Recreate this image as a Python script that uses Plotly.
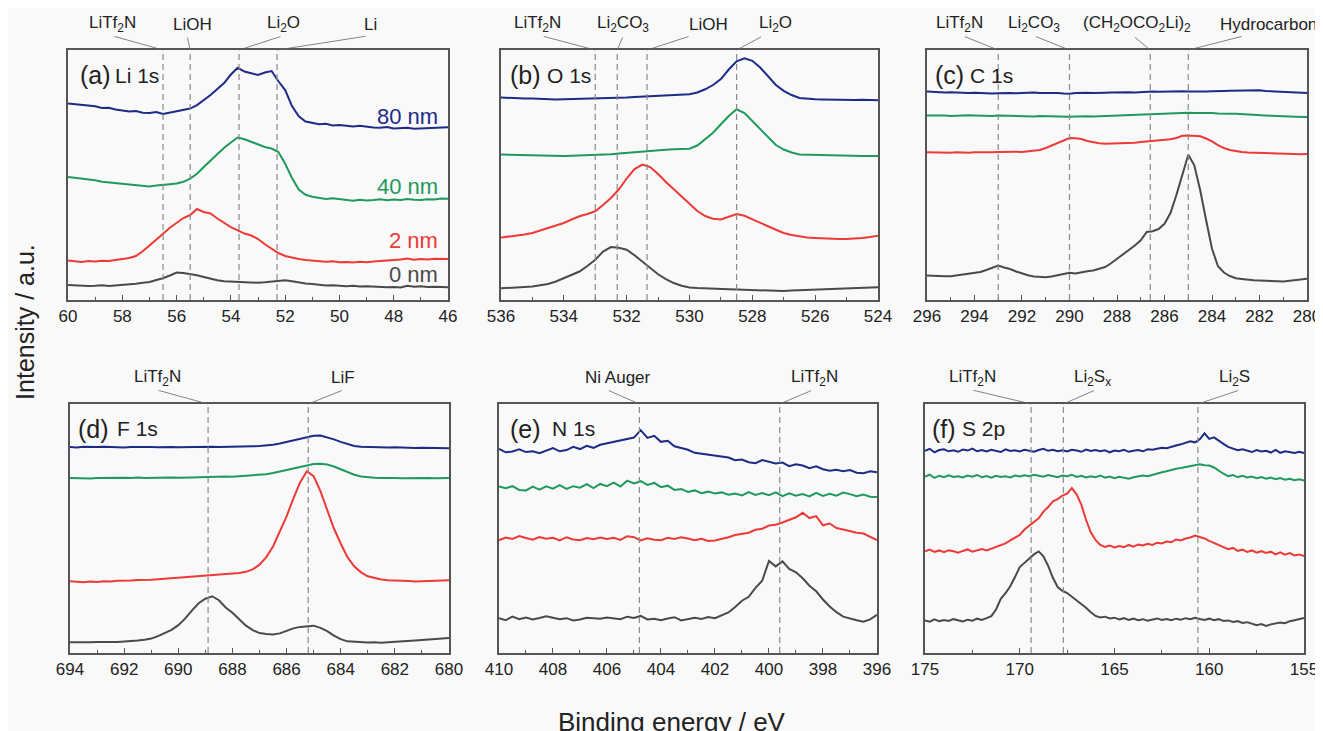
import numpy as np
import plotly.graph_objects as go

# ---- data (intensity in arbitrary units) ----
THICK = ['80 nm', '40 nm', '2 nm', '0 nm']
COLORS = ['#1e2a86', '#1f9a5c', '#ec3a36', '#4a4a4a']

# Li 1s, 60 -> 46 eV, 0.25 eV steps
li1s_ev = np.arange(60, 45.99, -0.25)
li1s_80 = [78.6, 78.4, 78.0, 77.9, 77.5, 76.8, 76.9, 76.2, 75.8, 75.4, 75.6, 74.9,
           74.8, 75.2, 74.4, 75.0, 75.4, 75.9, 76.6, 78.0, 79.9, 82.0, 84.4, 86.8,
           90.2, 92.9, 91.4, 90.8, 90.0, 91.0, 91.6, 87.5, 84.0, 77.6, 73.5, 71.4,
           70.8, 70.3, 70.5, 69.8, 70.0, 69.6, 69.4, 69.7, 69.2, 69.0, 68.9, 69.2,
           68.6, 68.7, 68.9, 68.5, 68.6, 68.8, 68.6, 69.0, 69.1]
li1s_40 = [49.2, 48.9, 48.6, 48.0, 47.9, 47.3, 47.0, 46.8, 46.4, 46.1, 45.8, 45.6,
           45.4, 45.8, 45.9, 46.3, 46.6, 47.3, 48.6, 50.5, 53.2, 55.9, 58.4, 60.9,
           63.0, 65.0, 64.3, 63.3, 62.0, 61.2, 60.6, 59.2, 54.5, 48.8, 44.2, 42.1,
           41.3, 40.9, 40.4, 40.7, 40.3, 40.0, 39.7, 40.1, 39.8, 40.0, 40.3, 39.9,
           40.2, 40.0, 40.4, 40.1, 40.0, 40.3, 40.2, 40.6, 40.5]
li1s_2 = [15.8, 15.6, 15.2, 15.6, 15.4, 15.7, 15.6, 16.0, 16.3, 16.8, 17.6, 19.5,
          21.8, 24.0, 26.5, 28.9, 31.0, 32.8, 34.0, 36.4, 35.2, 34.6, 32.6, 30.8,
          29.2, 27.9, 26.6, 25.8, 24.4, 22.3, 20.6, 18.8, 17.6, 16.9, 16.4, 16.0,
          15.8, 15.5, 15.3, 15.5, 15.1, 15.2, 15.0, 15.3, 15.1, 15.4, 15.6, 15.5,
          15.8, 16.2, 16.6, 16.1, 16.4, 16.2, 16.5, 16.3, 16.4]
li1s_0 = [6.0, 5.8, 5.9, 5.6, 5.7, 5.9, 5.6, 5.8, 5.9, 6.1, 6.5, 6.9,
          7.2, 8.0, 8.7, 9.8, 11.0, 10.8, 10.5, 9.9, 9.2, 8.4, 7.9, 7.5,
          7.4, 7.0, 7.2, 6.8, 6.9, 7.1, 7.4, 7.8, 7.9, 7.5, 7.0, 6.6,
          6.4, 6.1, 5.8, 5.9, 5.7, 5.5, 5.7, 5.4, 5.5, 5.3, 5.4, 5.1,
          5.2, 5.0, 5.7, 5.3, 5.5, 5.2, 5.3, 5.1, 5.1]

# O 1s, 536 -> 524 eV
o1s_ev = np.arange(536, 523.99, -0.25)
o1s_80 = [81.0, 80.8, 80.9, 80.6, 80.6, 80.4, 80.5, 80.2, 80.3, 80.4, 80.2, 80.3,
          80.4, 80.5, 80.6, 80.9, 81.0, 81.2, 81.4, 81.5, 81.7, 81.8, 82.0, 82.2,
          82.3, 83.0, 84.3, 86.0, 88.4, 92.2, 95.5, 96.7, 95.7, 93.0, 89.5, 86.0,
          83.7, 82.0, 80.8, 80.4, 80.3, 80.2, 80.1, 80.2, 80.1, 80.0, 80.1, 79.9,
          79.9]
o1s_40 = [58.2, 58.1, 58.0, 57.9, 57.8, 57.7, 57.6, 57.7, 57.6, 57.7, 57.8, 57.7,
          57.8, 58.0, 58.3, 58.6, 58.9, 59.2, 59.5, 59.8, 60.0, 60.1, 60.3, 60.4,
          60.5, 61.8, 64.2, 66.9, 70.3, 73.6, 76.3, 74.8, 71.6, 68.3, 64.9, 62.0,
          60.2, 59.0, 58.2, 58.1, 58.0, 57.8, 57.7, 57.6, 57.6, 57.5, 57.6, 57.6,
          57.6]
o1s_2 = [25.0, 25.3, 25.7, 26.2, 26.8, 27.8, 28.8, 29.8, 30.8, 32.2, 33.5, 34.4,
         35.5, 38.0, 40.8, 44.2, 48.6, 52.4, 54.2, 53.2, 50.4, 47.2, 44.2, 41.2,
         38.2, 35.6, 33.6, 32.5, 32.2, 33.3, 34.4, 33.7, 32.2, 30.8, 29.5, 28.1,
         26.8, 26.0, 25.4, 25.0, 24.8, 24.6, 24.5, 24.4, 24.4, 24.5, 24.8, 25.2,
         25.7]
o1s_0 = [4.7, 4.8, 5.0, 5.2, 5.4, 5.8, 6.4, 7.4, 8.7, 10.0, 11.4, 13.6,
         16.1, 19.4, 21.2, 20.9, 20.1, 17.9, 15.4, 12.9, 10.3, 8.4, 6.8, 5.7,
         5.0, 4.8, 4.6, 4.5, 4.4, 4.3, 4.2, 4.1, 4.0, 3.9, 3.8, 3.7,
         3.6, 3.8, 3.9, 4.0, 4.0, 4.1, 4.2, 4.3, 4.4, 4.6, 4.8, 4.9,
         5.1]

# C 1s, 296 -> 280 eV
c1s_ev = np.arange(296, 279.99, -0.25)
c1s_80 = [83.4, 83.2, 83.3, 83.0, 83.1, 82.9, 83.0, 82.8, 82.9, 82.7, 82.8, 82.6,
          82.7, 82.9, 82.8, 82.7, 82.9, 82.8, 83.0, 82.8, 82.9, 82.7, 82.8, 82.6,
          82.5, 82.8, 82.7, 82.9, 82.8, 83.0, 82.9, 83.0, 83.1, 83.0, 83.1, 83.0,
          83.2, 83.3, 83.4, 83.3, 83.4, 83.3, 83.4, 83.5, 83.4, 83.3, 83.5, 83.4,
          83.5, 83.4, 83.6, 83.7, 83.8, 83.9, 84.0, 83.8, 83.9, 83.6, 83.5, 83.3,
          83.2, 83.0, 83.1, 82.9, 82.8]
c1s_40 = [73.8, 73.9, 73.7, 73.8, 73.6, 73.8, 73.7, 73.9, 73.8, 73.7, 73.8, 73.6,
          73.8, 73.7, 73.5, 73.6, 73.4, 73.5, 73.4, 73.6, 73.5, 73.3, 73.4, 73.2,
          73.3, 73.4, 73.3, 73.5, 73.4, 73.5, 73.6, 73.5, 73.6, 73.8, 73.9, 74.1,
          74.2, 74.4, 74.5, 74.6, 74.7, 74.8, 74.8, 74.9, 74.9, 74.8, 74.9, 74.7,
          74.8, 74.6, 74.7, 74.5, 74.5, 74.3, 74.2, 74.0, 74.0, 73.8, 73.7, 73.7,
          73.6, 73.4, 73.3, 73.3, 73.2]
c1s_2 = [59.1, 59.0, 59.2, 59.0, 58.9, 59.1, 59.0, 58.9, 59.1, 59.0, 59.2, 59.1,
         59.2, 59.3, 59.1, 59.3, 59.2, 59.4, 59.5, 60.0, 60.8, 61.8, 62.8, 64.0,
         64.8, 64.7, 64.4, 63.6, 63.1, 62.7, 62.5, 62.6, 62.4, 62.6, 62.8, 62.9,
         63.2, 63.4, 63.6, 63.9, 64.2, 64.3, 64.8, 65.7, 65.8, 65.6, 65.5, 64.6,
         63.5, 62.0, 60.8, 60.0, 59.5, 59.2, 59.0, 58.9, 58.8, 58.7, 58.6, 58.5,
         58.5, 58.4, 58.5, 58.3, 58.4]
c1s_0 = [9.8, 9.6, 9.7, 9.5, 9.5, 9.8, 10.1, 10.3, 10.6, 11.2, 12.0, 12.8,
         13.8, 13.0, 12.4, 11.4, 10.6, 9.9, 9.4, 9.2, 9.1, 9.4, 9.8, 10.4,
         10.9, 10.6, 11.2, 11.5, 11.8, 12.4, 13.2, 14.7, 16.5, 18.1, 19.9, 21.8,
         23.9, 27.2, 27.5, 28.4, 30.5, 34.8, 42.0, 50.0, 58.1, 54.0, 44.0, 32.0,
         20.5, 13.5, 11.0, 9.6, 8.7, 8.4, 8.0, 7.9, 7.8, 7.6, 7.4, 7.5,
         7.4, 7.6, 7.9, 8.2, 8.5]

# F 1s, 694 -> 680 eV
f1s_ev = np.arange(694, 679.99, -0.25)
f1s_80 = [82.7, 82.5, 82.8, 82.6, 82.7, 82.8, 82.6, 82.7, 82.5, 82.7, 82.8, 82.6,
          82.7, 82.6, 82.8, 82.7, 82.6, 82.7, 82.8, 82.6, 82.7, 82.8, 82.7, 82.7,
          82.8, 82.8, 82.9, 83.0, 83.1, 83.3, 83.6, 84.1, 84.7, 85.4, 86.0, 86.7,
          87.2, 87.3, 86.7, 85.8, 84.8, 83.8, 83.1, 82.8, 82.7, 82.6, 82.7, 82.5,
          82.6, 82.4, 82.5, 82.3, 82.4, 82.3, 82.2, 82.3, 82.2]
f1s_40 = [70.3, 70.2, 70.4, 70.1, 70.3, 70.4, 70.2, 70.3, 70.4, 70.3, 70.5, 70.3,
          70.4, 70.5, 70.4, 70.5, 70.4, 70.6, 70.5, 70.6, 70.7, 70.6, 70.7, 70.9,
          70.8, 71.0, 71.1, 71.3, 71.5, 71.8, 72.3, 72.9, 73.6, 74.3, 74.9, 75.5,
          75.9, 76.0, 75.7, 74.9, 73.8, 72.6, 71.6, 70.9, 70.5, 70.4, 70.3, 70.4,
          70.3, 70.2, 70.3, 70.4, 70.2, 70.3, 70.2, 70.3, 70.3]
f1s_2 = [28.8, 28.6, 28.4, 28.7, 28.5, 28.8, 28.7, 29.0, 28.9, 29.1, 29.3, 29.2,
         29.4, 29.6, 29.8, 30.0, 30.2, 30.4, 30.7, 30.9, 31.1, 31.3, 31.6, 31.8,
         32.0, 32.1, 32.6, 33.6, 35.5, 38.5, 42.8, 48.5, 54.9, 62.0, 68.5, 73.0,
         71.0, 65.0, 57.6, 50.0, 44.0, 38.5, 34.8, 32.4, 30.8, 30.0, 29.5, 29.2,
         29.0, 28.8, 28.9, 28.7, 28.8, 28.9, 29.0, 29.1, 29.2]
f1s_0 = [4.3, 4.2, 4.4, 4.3, 4.4, 4.3, 4.5, 4.4, 4.6, 4.7, 5.0, 5.3,
         5.8, 6.8, 7.9, 9.3, 11.2, 13.8, 17.0, 20.0, 21.8, 22.8, 21.2, 18.3,
         16.2, 13.6, 11.0, 9.2, 8.0, 7.6, 7.4, 7.9, 8.9, 9.9, 10.5, 10.9,
         11.0, 10.1, 8.8, 7.0, 5.6, 4.7, 4.5, 4.4, 4.2, 4.3, 4.1, 4.3,
         4.4, 4.6, 4.8, 5.0, 5.2, 5.4, 5.6, 5.8, 6.0]

# N 1s, 410 -> 396 eV
n1s_ev = np.arange(410, 395.99, -0.25)
n1s_80 = [82.0, 80.6, 80.9, 81.8, 80.7, 81.0, 80.2, 81.4, 82.3, 81.0, 81.5, 82.8,
          81.9, 83.2, 82.4, 83.6, 84.2, 84.6, 85.3, 85.8, 86.5, 89.5, 86.4, 87.2,
          84.8, 85.2, 83.0, 82.3, 81.6, 80.4, 80.0, 79.6, 79.2, 79.0, 78.5, 77.4,
          77.7, 76.6, 76.2, 77.5, 76.9, 76.1, 76.5, 75.0, 75.8, 75.3, 74.2, 75.0,
          73.8, 73.2, 73.6, 73.0, 73.5, 72.4, 72.2, 73.0, 72.6]
n1s_40 = [66.9, 66.2, 67.0, 65.5, 65.3, 66.8, 65.6, 66.9, 66.0, 67.4, 65.9, 67.0,
          66.4, 67.8, 66.2, 67.9, 67.0, 68.4, 66.9, 69.2, 68.1, 69.0, 67.5, 68.3,
          66.6, 67.2, 65.5, 65.9, 64.7, 65.3, 64.2, 64.8, 64.1, 64.5, 63.6, 64.0,
          63.3, 64.6, 63.5, 64.2, 63.4, 64.5, 63.0, 64.1, 63.2, 63.8, 62.9, 64.3,
          63.1, 63.9, 63.2, 64.4, 63.8, 63.0, 63.6, 62.8, 62.7]
n1s_2 = [45.3, 46.4, 45.8, 47.0, 46.2, 45.5, 46.6, 45.9, 46.3, 45.2, 46.5, 45.6,
         45.3, 46.2, 45.7, 46.4, 45.8, 46.3, 45.4, 46.9, 46.5, 45.2, 46.1, 45.5,
         45.3, 46.3, 45.8, 46.5, 46.0, 45.3, 45.9, 45.0, 45.2, 45.8, 46.5, 47.4,
         48.0, 48.3, 49.5, 49.9, 51.2, 51.5, 52.4, 53.6, 54.5, 56.3, 54.2, 55.0,
         51.3, 52.0, 50.2, 49.6, 48.8, 48.3, 48.0, 46.6, 45.3]
n1s_0 = [14.0, 13.2, 14.6, 13.6, 14.3, 13.5, 14.1, 14.8, 14.2, 13.6, 14.0, 13.1,
         13.5, 14.2, 14.0, 13.8, 14.3, 14.0, 13.6, 14.6, 14.1, 14.9, 13.5, 13.8,
         13.2, 13.9, 14.4, 13.1, 13.6, 14.2, 13.7, 14.5, 14.0, 15.2, 16.3, 18.5,
         21.0, 22.6, 26.2, 29.0, 37.0, 34.8, 36.8, 33.8, 32.4, 30.0, 27.0, 24.8,
         21.5, 18.7, 16.4, 14.6, 13.8, 13.2, 12.6, 13.5, 15.3]

# S 2p, 175 -> 155 eV
s2p_ev = np.arange(175, 154.99, -0.25)
s2p_80 = [81.2, 82.0, 80.6, 81.5, 81.8, 81.0, 81.4, 80.8, 81.7, 81.3, 82.1, 81.0,
          81.5, 80.9, 81.6, 81.2, 80.7, 81.8, 81.1, 81.4, 80.9, 81.6, 81.3, 80.8,
          81.5, 82.0, 81.2, 81.6, 81.0, 81.4, 80.9, 81.6, 81.3, 80.8, 81.7, 81.1,
          81.5, 81.0, 81.4, 80.6, 81.3, 81.0, 81.6, 80.8, 81.2, 81.5, 81.0, 81.8,
          81.6, 82.0, 82.4, 82.2, 82.9, 83.3, 83.8, 84.5, 85.0, 84.6, 85.8, 88.2,
          86.0, 86.6, 85.2, 84.0, 82.8, 82.2, 81.4, 81.8, 81.2, 80.7, 81.5, 80.9,
          81.2, 80.5, 81.6, 80.4, 81.0, 80.6, 80.3, 80.8, 80.3]
s2p_40 = [70.8, 71.6, 70.3, 71.2, 70.6, 71.4, 70.7, 71.0, 70.5, 71.3, 70.8, 71.5,
          70.6, 71.1, 70.4, 71.2, 70.7, 71.0, 70.5, 71.3, 70.9, 71.4, 71.0, 71.6,
          71.2, 70.8, 71.5, 71.0, 70.6, 71.3, 71.0, 71.6, 70.7, 71.2, 70.5, 71.0,
          70.6, 71.3, 70.4, 70.9, 70.2, 70.8, 70.4, 70.0, 70.6, 70.9, 71.3, 71.0,
          71.6, 72.0, 72.6, 73.0, 73.6, 74.0, 74.3, 74.6, 75.0, 75.2, 75.8, 75.4,
          75.3, 74.5, 73.2, 72.0, 71.0, 71.5, 70.6, 71.2, 70.5, 70.9, 70.2, 70.7,
          70.0, 70.5, 69.8, 70.3, 69.6, 70.0, 69.4, 69.8, 69.3]
s2p_2 = [40.8, 41.5, 40.6, 41.2, 40.5, 41.3, 40.9, 40.3, 41.0, 41.6, 40.7, 41.4,
         41.8, 41.2, 41.9, 42.3, 43.2, 44.0, 45.2, 46.3, 47.4, 49.6, 51.2, 52.8,
         54.1, 56.8, 58.6, 60.9, 61.8, 63.2, 64.0, 66.2, 63.7, 59.6, 53.4, 48.5,
         45.4, 43.4, 42.6, 43.2, 42.4, 43.0, 42.5, 43.4, 42.7, 43.6, 43.2, 43.9,
         43.4, 44.3, 44.0, 44.8, 44.5, 45.6, 45.2, 46.0, 46.4, 47.2, 46.6, 46.0,
         45.0, 44.2, 43.1, 42.4, 41.7, 42.2, 41.0, 41.5, 40.6, 41.2, 40.3, 40.9,
         40.2, 40.7, 39.6, 40.4, 39.5, 40.1, 39.2, 39.6, 38.9]
s2p_0 = [13.1, 12.6, 13.5, 12.8, 13.3, 12.9, 13.6, 13.0, 12.7, 13.4, 13.0, 13.8,
         13.3, 14.0, 14.8, 17.5, 21.8, 24.0, 26.8, 30.5, 34.5, 36.2, 38.0, 39.6,
         40.8, 38.8, 35.0, 30.2, 26.5, 25.0, 24.1, 22.6, 21.4, 19.8, 18.2, 16.4,
         14.9, 14.3, 14.6, 13.9, 14.2, 13.5, 14.0, 13.3, 13.8, 13.2, 13.6, 13.0,
         13.4, 13.9, 13.3, 13.7, 13.2, 13.8, 13.4, 14.0, 13.6, 14.2, 13.7, 13.3,
         13.8, 13.2, 13.6, 12.9, 13.1, 12.5, 12.8, 12.1, 12.4, 11.8, 11.2, 11.6,
         10.9, 11.5, 11.8, 12.3, 12.0, 12.8, 13.2, 13.6, 14.1]

# reference lines (eV) and their labels
li1s_ref = [56.5, 55.5, 53.7, 52.3]
li1s_lbl = ['LiTf<sub>2</sub>N', 'LiOH', 'Li<sub>2</sub>O', 'Li']
o1s_ref = [533.0, 532.3, 531.35, 528.5]
o1s_lbl = ['LiTf<sub>2</sub>N', 'Li<sub>2</sub>CO<sub>3</sub>', 'LiOH', 'Li<sub>2</sub>O']
c1s_ref = [293.0, 290.0, 286.6, 285.0]
c1s_lbl = ['LiTf<sub>2</sub>N', 'Li<sub>2</sub>CO<sub>3</sub>',
           '(CH<sub>2</sub>OCO<sub>2</sub>Li)<sub>2</sub>', 'Hydrocarbon']
f1s_ref = [688.9, 685.2]
f1s_lbl = ['LiTf<sub>2</sub>N', 'LiF']
n1s_ref = [404.8, 399.6]
n1s_lbl = ['Ni Auger', 'LiTf<sub>2</sub>N']
s2p_ref = [169.4, 167.7, 160.6]
s2p_lbl = ['LiTf<sub>2</sub>N', 'Li<sub>2</sub>S<sub>x</sub>', 'Li<sub>2</sub>S']

# ---- layout helpers ----
FONT = 'Liberation Sans, Arial, Helvetica, sans-serif'
TXT = '#222222'
FRAME = '#555555'

panels = [
    dict(tag='(a)', name='Li 1s', nx=(10, 45), ev=li1s_ev,
         ys=[li1s_80, li1s_40, li1s_2, li1s_0],
         rng=[60, 46], dtick=2, minor=1, ref=li1s_ref, lbl=li1s_lbl,
         off=[(-51, -50), (2, -3), (44, 43), (93, 90)]),
    dict(tag='(b)', name='O 1s', nx=(7, 44), ev=o1s_ev,
         ys=[o1s_80, o1s_40, o1s_2, o1s_0],
         rng=[536, 524], dtick=2, minor=1, ref=o1s_ref, lbl=o1s_lbl,
         off=[(-58, -53), (6, 6), (61, 43), (39, 26)]),
    dict(tag='(c)', name='C 1s', nx=(6, 41), ev=c1s_ev,
         ys=[c1s_80, c1s_40, c1s_2, c1s_0],
         rng=[296, 280], dtick=2, minor=1, ref=c1s_ref, lbl=c1s_lbl,
         off=[(-39, -35), (-35, -35), (-13, -17), (80, 55)]),
    dict(tag='(d)', name='F 1s', nx=(6, 45), ev=f1s_ev,
         ys=[f1s_80, f1s_40, f1s_2, f1s_0],
         rng=[694, 680], dtick=2, minor=1, ref=f1s_ref, lbl=f1s_lbl,
         off=[(-51, -51), (35, 35)]),
    dict(tag='(e)', name='N 1s', nx=(9, 51), ev=n1s_ev,
         ys=[n1s_80, n1s_40, n1s_2, n1s_0],
         rng=[410, 396], dtick=2, minor=1, ref=n1s_ref, lbl=n1s_lbl,
         off=[(-21, -32), (35, 33)]),
    dict(tag='(f)', name='S 2p', nx=(5, 35), ev=s2p_ev,
         ys=[s2p_80, s2p_40, s2p_2, s2p_0],
         rng=[175, 155], dtick=5, minor=2.5, ref=s2p_ref, lbl=s2p_lbl,
         off=[(-59, -59), (29, 32), (37, 42)]),
]

x_dom = [[0.0454, 0.3326], [0.3726, 0.6576], [0.6946, 0.9819],
         [0.0469, 0.3333], [0.3711, 0.6568], [0.6931, 0.9796]]
y_top = [0.6005, 0.9425]
y_bot = [0.1176, 0.4583]

fig = go.Figure()
shapes, annos = [], []
layout = {}

for i, p in enumerate(panels):
    n = '' if i == 0 else str(i + 1)
    xa, ya = 'x' + n, 'y' + n
    for ys, col, lab in zip(p['ys'], COLORS, THICK):
        fig.add_trace(go.Scatter(x=p['ev'], y=ys, mode='lines', name=lab,
                                 line=dict(color=col, width=2),
                                 xaxis=xa, yaxis=ya, showlegend=False))
    layout['xaxis' + n] = dict(
        domain=x_dom[i], anchor=ya, range=p['rng'], dtick=p['dtick'],
        showline=True, mirror=True, linecolor=FRAME, linewidth=2,
        ticks='inside', ticklen=5, tickwidth=1, tickcolor=FRAME,
        minor=dict(dtick=p['minor'], ticks='inside', ticklen=3, tickcolor=FRAME),
        showgrid=False, zeroline=False,
        tickfont=dict(family=FONT, size=17, color=TXT))
    layout['yaxis' + n] = dict(
        domain=y_top if i < 3 else y_bot, anchor=xa, range=[0, 100],
        showline=True, mirror=True, linecolor=FRAME, linewidth=2,
        showticklabels=False, ticks='', showgrid=False, zeroline=False)

    # dashed reference lines, labels and leader lines
    for ref, lbl, (ldx, tdx) in zip(p['ref'], p['lbl'], p['off']):
        shapes.append(dict(type='line', xref=xa, yref=ya + ' domain',
                           x0=ref, x1=ref, y0=0, y1=1,
                           line=dict(color='#8a8a8a', width=1.2, dash='6px,4px')))
        annos.append(dict(x=ref, y=1, xref=xa, yref=ya + ' domain', text=lbl,
                          showarrow=False, xshift=ldx, yshift=26,
                          xanchor='center', yanchor='middle',
                          font=dict(family=FONT, size=17, color=TXT)))
        annos.append(dict(x=ref, y=1, xref=xa, yref=ya + ' domain', text='',
                          showarrow=True, arrowhead=0, arrowwidth=0.8,
                          arrowcolor='#666666', ax=tdx, ay=-14, standoff=0))

    # panel title: big tag + element line
    annos.append(dict(x=0, y=1, xref=xa + ' domain', yref=ya + ' domain',
                      text=p['tag'], showarrow=False, xanchor='left', yanchor='middle',
                      xshift=p['nx'][0], yshift=-25,
                      font=dict(family=FONT, size=25, color=TXT)))
    annos.append(dict(x=0, y=1, xref=xa + ' domain', yref=ya + ' domain',
                      text=p['name'], showarrow=False, xanchor='left', yanchor='middle',
                      xshift=p['nx'][1], yshift=-25,
                      font=dict(family=FONT, size=21, color=TXT)))

# thickness labels in panel (a)
thick_y = [73.3, 45.6, 23.8, 10.2]
for lab, col, yy in zip(THICK, COLORS, thick_y):
    annos.append(dict(x=46.3, y=yy, xref='x', yref='y', text=lab, showarrow=False,
                      xanchor='right', yanchor='middle',
                      font=dict(family=FONT, size=22, color=col)))

# axis titles
annos.append(dict(x=0.502, y=0.047, xref='paper', yref='paper',
                  text='Binding energy / eV', showarrow=False,
                  xanchor='center', yanchor='top',
                  font=dict(family=FONT, size=26, color=TXT)))
annos.append(dict(x=0.0128, y=0.5705, xref='paper', yref='paper',
                  text='Intensity / a.u.', showarrow=False, textangle=-90,
                  xanchor='center', yanchor='middle',
                  font=dict(family=FONT, size=25, color=TXT)))

fig.update_layout(**layout)
fig.update_layout(
    width=1323, height=731,
    margin=dict(l=0, r=0, t=0, b=0, autoexpand=False),
    paper_bgcolor='#f9f9f9', plot_bgcolor='#f9f9f9',
    shapes=shapes, annotations=annos,
    font=dict(family=FONT, color=TXT),
)

fig.write_html('out.html')
